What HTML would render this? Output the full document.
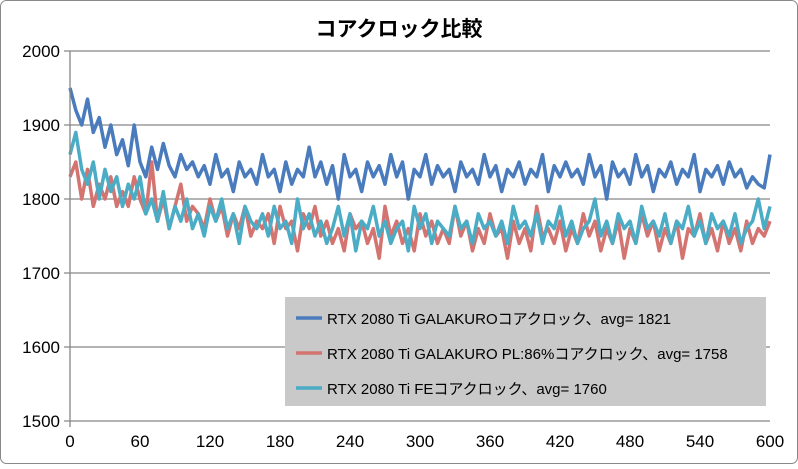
<!DOCTYPE html>
<html><head><meta charset="utf-8">
<style>
html,body{margin:0;padding:0;background:#fff;}
body{width:798px;height:464px;overflow:hidden;font-family:"Liberation Sans","Noto Sans CJK JP",sans-serif;}
</style></head>
<body>
<svg id="chart" width="798" height="464" xmlns="http://www.w3.org/2000/svg">
<rect x="0.5" y="0.5" width="797" height="463" rx="6" fill="#fff" stroke="#888"/>
<text x="399" y="36" text-anchor="middle" font-size="21" font-weight="bold" font-family="'Liberation Sans','Noto Sans CJK JP',sans-serif">コアクロック比較</text>
<g id="grid"></g>
<g id="series"></g>
<g id="axes"></g>
<g>
<rect x="285" y="297" width="481" height="109" fill="#c9c9c9"/>
<line x1="296" y1="318" x2="322" y2="318" stroke="#4a7bbd" stroke-width="3.5"/>
<text x="327" y="324" font-size="15">RTX 2080 Ti GALAKUROコアクロック、avg= 1821</text>
<line x1="296" y1="353" x2="322" y2="353" stroke="#d47471" stroke-width="3.5"/>
<text x="327" y="359" font-size="15">RTX 2080 Ti GALAKURO PL:86%コアクロック、avg= 1758</text>
<line x1="296" y1="388" x2="322" y2="388" stroke="#4bacc6" stroke-width="3.5"/>
<text x="327" y="394" font-size="15">RTX 2080 Ti FEコアクロック、avg= 1760</text>
</g>
</svg>
<script>
const xTicks = [0,60,120,180,240,300,360,420,480,540,600];
const yTicks = [1500,1600,1700,1800,1900,2000];
const step = 5;
const galakuro = [1950,1920,1900,1935,1890,1910,1870,1900,1860,1880,1845,1900,1850,1830,1870,1840,1875,1845,1830,1860,1840,1850,1830,1845,1820,1860,1830,1840,1810,1850,1830,1840,1820,1860,1830,1840,1810,1850,1820,1840,1830,1870,1830,1850,1820,1845,1800,1860,1830,1840,1810,1850,1830,1845,1820,1860,1830,1850,1800,1840,1830,1860,1820,1845,1830,1840,1810,1850,1830,1840,1820,1860,1830,1845,1810,1840,1830,1850,1820,1840,1830,1860,1810,1845,1830,1850,1830,1840,1820,1860,1830,1845,1800,1850,1830,1840,1820,1860,1830,1845,1810,1840,1830,1850,1820,1840,1830,1860,1810,1840,1830,1845,1820,1850,1830,1840,1815,1830,1820,1815,1860];
const galakuroPl = [1830,1850,1800,1840,1790,1820,1800,1830,1790,1810,1790,1830,1800,1780,1850,1770,1800,1760,1790,1820,1770,1790,1780,1760,1800,1770,1790,1750,1780,1760,1790,1750,1770,1760,1780,1740,1790,1760,1770,1730,1780,1760,1790,1750,1770,1740,1760,1730,1780,1760,1770,1740,1760,1720,1790,1750,1770,1740,1760,1730,1780,1750,1770,1740,1760,1740,1790,1750,1770,1730,1760,1740,1780,1750,1760,1720,1770,1740,1760,1730,1790,1750,1760,1740,1770,1730,1760,1740,1780,1750,1770,1730,1760,1740,1770,1720,1760,1740,1780,1750,1770,1730,1760,1740,1770,1720,1760,1750,1780,1740,1760,1730,1770,1740,1760,1730,1770,1740,1760,1750,1770];
const fe = [1860,1890,1840,1820,1850,1800,1840,1810,1830,1790,1820,1800,1830,1780,1800,1770,1810,1760,1790,1770,1800,1760,1780,1750,1790,1770,1800,1760,1780,1740,1790,1770,1760,1780,1750,1790,1760,1770,1740,1800,1760,1780,1750,1770,1740,1760,1790,1750,1780,1730,1770,1760,1790,1750,1770,1740,1760,1770,1730,1790,1760,1780,1740,1770,1760,1750,1790,1760,1770,1740,1780,1760,1770,1750,1770,1740,1790,1760,1770,1750,1780,1740,1770,1760,1790,1750,1770,1740,1760,1770,1800,1750,1770,1740,1780,1760,1770,1740,1790,1760,1770,1750,1780,1740,1770,1760,1790,1750,1770,1740,1780,1760,1770,1750,1780,1740,1760,1770,1800,1760,1790];
const X0=70, X1=770, Y0=421, Y1=51;
const xs = v => X0 + (v-0)/(600-0)*(X1-X0);
const ys = v => Y0 - (v-1500)/(2000-1500)*(Y0-Y1);
const NS="http://www.w3.org/2000/svg";
const grid=document.getElementById('grid'), axes=document.getElementById('axes'), ser=document.getElementById('series');
yTicks.forEach(t=>{
  const l=document.createElementNS(NS,'line');
  
  
  l.setAttribute('x1',X0-6);l.setAttribute('x2',X1);l.setAttribute('y1',ys(t));l.setAttribute('y2',ys(t));
  l.setAttribute('stroke','#868686');l.setAttribute('stroke-width','1.3');
  grid.appendChild(l);
  const tx=document.createElementNS(NS,'text');
  
  
  tx.setAttribute('x',X0-10);tx.setAttribute('y',ys(t)+6);tx.setAttribute('text-anchor','end');tx.setAttribute('font-size','17');
  tx.textContent=t;axes.appendChild(tx);
});
const ax=document.createElementNS(NS,'line');


ax.setAttribute('x1',X0);ax.setAttribute('x2',X0);ax.setAttribute('y1',Y1);ax.setAttribute('y2',Y0+6);
ax.setAttribute('stroke','#868686');ax.setAttribute('stroke-width','1.3');axes.appendChild(ax);
xTicks.forEach(t=>{
  const tx=document.createElementNS(NS,'text');
  
  
  tx.setAttribute('x',xs(t));tx.setAttribute('y',Y0+26);tx.setAttribute('text-anchor','middle');tx.setAttribute('font-size','17');
  tx.textContent=t;axes.appendChild(tx);
});
function draw(arr,color,name){
  const p=document.createElementNS(NS,'polyline');
  
  
  p.setAttribute('points',arr.map((v,i)=>xs(i*step).toFixed(1)+','+ys(v).toFixed(1)).join(' '));
  p.setAttribute('fill','none');p.setAttribute('stroke',color);p.setAttribute('stroke-width','3.5');p.setAttribute('stroke-linejoin','round');
  ser.appendChild(p);
}
draw(galakuroPl,'#d47471','series-galakuro-pl86');
draw(galakuro,'#4a7bbd','series-galakuro');
draw(fe,'#4bacc6','series-fe');
</script>
</body></html>
